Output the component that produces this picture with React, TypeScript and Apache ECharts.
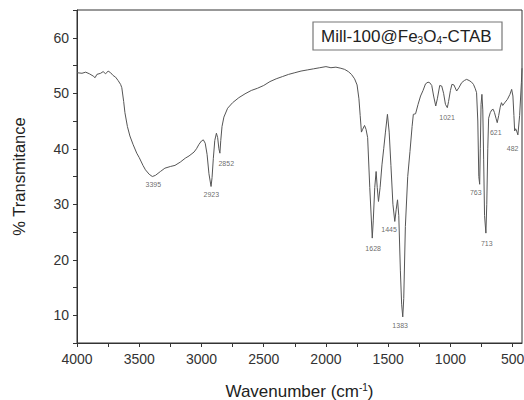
import React, { useEffect, useRef } from "react";
import * as echarts from "echarts";

const wavenumbers = [
  4000, 3960, 3930, 3900, 3870, 3855, 3840, 3810, 3790, 3770, 3750, 3730, 3710, 3690, 3670, 3650, 3640,
  3625, 3615, 3595, 3575, 3550, 3520, 3500, 3470, 3450, 3420, 3395, 3370, 3330, 3294, 3250, 3213, 3170,
  3130, 3100, 3060, 3040, 3020, 3000, 2985, 2970, 2955, 2940, 2923, 2915, 2905, 2893, 2880, 2870, 2860,
  2852, 2845, 2835, 2820, 2790, 2750, 2700, 2650, 2600, 2550, 2500, 2450, 2400, 2350, 2300, 2250, 2200,
  2150, 2100, 2050, 2000, 1960, 1920, 1880, 1850, 1820, 1795, 1770, 1750, 1735, 1725, 1715, 1705, 1690,
  1678, 1665, 1648, 1628, 1620, 1608, 1597, 1588, 1578, 1565, 1550, 1536, 1522, 1506, 1492, 1478, 1462,
  1447, 1436, 1425, 1415, 1402, 1392, 1383, 1375, 1362, 1343, 1325, 1308, 1298, 1280, 1260, 1240, 1220,
  1200, 1180, 1166, 1150, 1135, 1118, 1105, 1086, 1070, 1055, 1040, 1025, 1015, 1000, 988, 972, 950,
  932, 910, 888, 870, 850, 830, 815, 800, 790, 780, 772, 765, 760, 754, 747, 740, 733, 726, 715, 708,
  700, 693, 680, 668, 656, 646, 634, 624, 612, 600, 590, 580, 560, 542, 522, 508, 498, 490, 484, 476,
  468, 458, 444, 430, 425,
];

const transmittance = [
  53.7, 53.6, 53.8, 53.5, 53.1, 52.8, 53.4, 53.6, 53.9, 53.5, 54.0, 53.7, 53.2, 52.9, 52.3, 51.6, 51.0,
  48.5, 46.5, 44.0, 42.3, 40.8, 39.2, 38.4, 37.0, 36.2, 35.4, 35.0, 35.2, 35.9, 36.5, 36.8, 37.0, 37.6,
  38.3, 38.7, 39.4, 40.0, 40.8, 41.4, 41.6, 41.0, 39.0, 35.5, 33.2, 34.8, 38.2, 41.5, 42.8, 42.0, 40.0,
  39.2, 41.5, 44.0, 45.7, 47.3, 48.3, 49.2, 49.9, 50.5, 50.9, 51.4, 52.1, 52.6, 53.0, 53.4, 53.7, 54.0,
  54.2, 54.4, 54.6, 54.8, 54.6, 54.7, 54.5, 54.3, 53.9, 53.4, 52.6, 51.5, 49.0, 46.0, 43.0, 43.5, 44.2,
  43.5, 42.0, 33.0, 23.9, 27.0, 33.0, 35.9, 33.0, 30.5, 33.0, 37.1, 40.0, 43.0, 46.2, 43.0, 37.0, 30.0,
  26.9, 29.0, 30.8, 28.0, 18.0, 12.0, 9.7, 13.0, 26.0, 35.0, 39.5, 44.0, 46.2, 46.3, 48.0, 49.5, 50.5,
  51.7, 52.0, 51.9, 51.4, 49.5, 47.7, 49.0, 51.4, 51.3, 50.0, 48.0, 47.4, 48.5, 50.5, 51.6, 51.5, 50.4,
  51.0, 51.9, 52.3, 52.5, 52.3, 52.0, 51.6, 50.8, 50.1, 45.0, 35.0, 33.6, 40.0, 48.0, 49.8, 47.0, 38.0,
  28.0, 24.8, 30.0, 40.0, 45.5, 46.5, 47.0, 47.1, 46.5, 45.5, 44.7, 46.0, 47.5, 48.3, 47.8, 48.4, 48.9,
  49.8, 50.7, 49.5, 46.0, 43.2, 43.6, 43.2, 42.5, 46.0, 51.9, 54.5, 55.0,
];

const peakLabels = ["3395", "2923", "2852", "1628", "1445", "1383", "1021", "763", "713", "621", "482"];
const peakLabelWn = [3387, 2921, 2801, 1621, 1493, 1404, 1027, 796, 708, 636, 500];
const peakLabelT = [33.5, 31.7, 37.4, 22.1, 25.5, 8.2, 45.7, 32.2, 23.0, 42.9, 40.1];

const xLabelValues = [4000, 3500, 3000, 2500, 2000, 1500, 1000, 500];
const xTickValues = [4000, 3750, 3500, 3250, 3000, 2750, 2500, 2250, 2000, 1750, 1500, 1250, 1000, 750, 500];

export default function App() {
  const ref = useRef<HTMLDivElement>(null);
  useEffect(() => {
    if (!ref.current) return;
    const chart = echarts.init(ref.current, undefined, { renderer: "svg" });
    const font = "Liberation Sans, Arial, sans-serif";
    chart.setOption({
      animation: false,
      backgroundColor: "#ffffff",
      grid: {
        left: 77,
        right: 2,
        top: 10,
        bottom: 57,
        show: true,
        borderColor: "#333",
        borderWidth: 1,
        containLabel: false,
        outerBoundsMode: "none",
      },
      xAxis: {
        type: "value",
        inverse: true,
        min: 425,
        max: 4000,
        name: "{a|Wavenumber (cm}{s|-1}{a|)}",
        nameLocation: "middle",
        nameGap: 39,
        nameTextStyle: {
          rich: {
            a: { fontSize: 17, fontFamily: font, color: "#222" },
            s: { fontSize: 10, fontFamily: font, color: "#222", padding: [0, 0, 9, 0] },
          },
        },
        axisLine: { lineStyle: { color: "#333", width: 1 } },
        axisTick: { customValues: xTickValues, length: 4, lineStyle: { color: "#333" } },
        axisLabel: {
          customValues: xLabelValues,
          fontSize: 14,
          fontFamily: font,
          color: "#333",
          margin: 9,
          formatter: (v: number) => String(v),
        },
        splitLine: { show: false },
      },
      yAxis: {
        type: "value",
        min: 5,
        max: 65,
        interval: 5,
        name: "% Transmitance",
        nameLocation: "middle",
        nameGap: 50,
        nameTextStyle: { fontSize: 16.5, fontFamily: font, color: "#222" },
        axisLine: { show: true, lineStyle: { color: "#333", width: 1 } },
        axisTick: { length: 4, lineStyle: { color: "#333" } },
        axisLabel: {
          fontSize: 14,
          fontFamily: font,
          color: "#333",
          margin: 8,
          formatter: (v: number) => (v % 10 === 0 && v > 5 && v < 65 ? String(v) : ""),
        },
        splitLine: { show: false },
      },
      graphic: [
        {
          type: "group",
          children: [
            {
              type: "rect",
              shape: { x: 313, y: 22, width: 189, height: 28 },
              style: { fill: "#fff", stroke: "#777", lineWidth: 1.2 },
            },
            {
              type: "text",
              x: 321,
              y: 36,
              style: {
                text: "{a|Mill-100@Fe}{s|3}{a|O}{s|4}{a|-CTAB}",
                verticalAlign: "middle",
                rich: {
                  a: { fontSize: 17, fontFamily: font, fill: "#222" },
                  s: { fontSize: 10, fontFamily: font, fill: "#222", padding: [9, 0, 0, 0] },
                },
              },
            },
          ],
        },
      ],
      series: [
        {
          type: "line",
          data: wavenumbers.map((w, i) => [w, transmittance[i]]),
          showSymbol: false,
          lineStyle: { color: "#555", width: 1 },
          silent: true,
        },
        {
          type: "scatter",
          symbolSize: 0,
          itemStyle: { color: "rgba(0,0,0,0)" },
          silent: true,
          data: peakLabels.map((n, i) => ({ name: n, value: [peakLabelWn[i], peakLabelT[i]] })),
          label: {
            show: true,
            position: [0, 0],
            align: "center",
            verticalAlign: "middle",
            formatter: (p: any) => p.name,
            fontSize: 7,
            fontFamily: font,
            color: "#444",
          },
        },
      ],
    });
    return () => chart.dispose();
  }, []);
  return <div ref={ref} style={{ width: 524, height: 400, position: "absolute", left: 0, top: 0 }} />;
}
